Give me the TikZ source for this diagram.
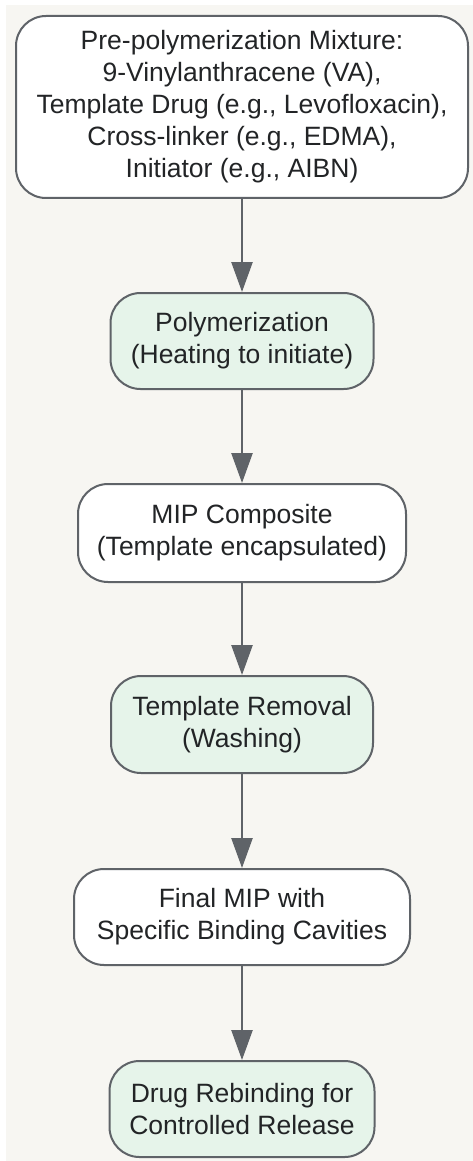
\documentclass[tikz,border=0pt]{standalone}
\usepackage{fontspec}
\setmainfont{Liberation Sans}
\usetikzlibrary{arrows.meta}
\definecolor{bgbeige}{HTML}{F7F6F2}
\definecolor{edgegray}{HTML}{5F6368}
\definecolor{txtdark}{HTML}{222426}
\definecolor{stepgreen}{HTML}{E6F4EA}
\tikzset{
  procbox/.style={draw=edgegray, line width=2pt, rounded corners=30pt, inner sep=0pt,
    align=center, text=txtdark, font=\fontsize{26.5}{32}\selectfont},
  whitebox/.style={procbox, fill=white},
  greenbox/.style={procbox, fill=stepgreen},
  flowarrow/.style={draw=edgegray, line width=2.5pt,
    -{Triangle[length=30pt,width=21pt,fill=edgegray]}}
}
\begin{document}
\begin{tikzpicture}[x=1pt,y=-1pt]
\useasboundingbox (0,0) rectangle (473,1161);
\fill[bgbeige] (6,5) rectangle (473,1161);
\node[whitebox, minimum width=452pt, minimum height=182pt] (n1) at (242,107)
  {Pre-polymerization Mixture:\\9-Vinylanthracene (VA),\\Template Drug (e.g., Levofloxacin),\\Cross-linker (e.g., EDMA),\\Initiator (e.g., AIBN)};
\node[greenbox, minimum width=263pt, minimum height=96pt] (n2) at (242,341)
  {Polymerization\\(Heating to initiate)};
\node[whitebox, minimum width=328pt, minimum height=98pt] (n3) at (242,533)
  {MIP Composite\\(Template encapsulated)};
\node[greenbox, minimum width=262pt, minimum height=97pt] (n4) at (242,724.5)
  {Template Removal\\(Washing)};
\node[whitebox, minimum width=336pt, minimum height=96pt] (n5) at (242,917)
  {Final MIP with\\Specific Binding Cavities};
\node[greenbox, minimum width=265pt, minimum height=96pt] (n6) at (242,1109)
  {Drug Rebinding for\\Controlled Release};
\draw[flowarrow] (n1.south) -- (n2.north);
\draw[flowarrow] (n2.south) -- (n3.north);
\draw[flowarrow] (n3.south) -- (n4.north);
\draw[flowarrow] (n4.south) -- (n5.north);
\draw[flowarrow] (n5.south) -- (n6.north);
\end{tikzpicture}
\end{document}
